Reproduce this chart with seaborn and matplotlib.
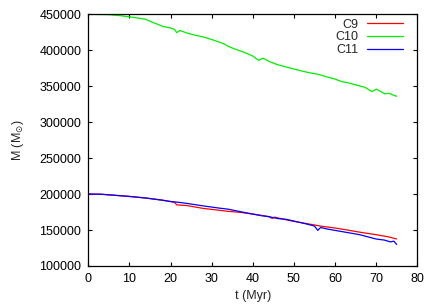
import pandas as pd
import matplotlib
matplotlib.use("Agg")
import matplotlib.pyplot as plt
import seaborn as sns

# C9 (red)
t_c9 = [0, 3, 6, 10, 14, 18, 20, 21, 21.5, 24, 28, 31.8, 34, 37, 40, 42, 44, 44.7, 45.3,
        47, 50, 53, 55, 57, 60, 63, 66, 70, 73, 75]
m_c9 = [200000, 199800, 198500, 196700, 194500, 191500, 189500, 188500, 185000, 184000,
        180000, 177500, 176000, 174500, 172200, 170500, 168500, 166000, 168000, 165500,
        162000, 159000, 157000, 155000, 152800, 150000, 147000, 143500, 140500, 137500]

# C10 (green)
t_c10 = [0, 5, 8, 10, 12, 14, 16, 17, 18, 20, 21, 21.5, 22.3, 24, 26, 28, 30, 31.8, 33, 34,
         36, 38, 40, 41.4, 42.5, 44, 46, 48, 50, 52, 54, 56, 58, 60, 61.6, 63, 65, 67.3,
         69, 70.1, 71, 72.1, 73.3, 74, 75]
m_c10 = [450000, 449500, 448000, 446500, 445000, 443000, 438000, 436000, 433500, 431000,
         429000, 424500, 427500, 424000, 421000, 418500, 415000, 411500, 409000, 405500,
         401000, 397000, 392000, 386000, 389000, 384500, 380000, 377000, 374000, 371000,
         368500, 366500, 363000, 360000, 356500, 355000, 352000, 348500, 342500, 346000,
         343000, 339500, 340000, 338000, 336000]

# C11 (blue)
t_c11 = [0, 3, 6, 10, 14, 18, 20, 22, 24, 28, 31.8, 34, 37, 40, 42, 44, 46, 48, 50, 53, 55,
         55.8, 56.5, 58, 60, 63, 66, 70, 72, 73.5, 74.3, 75]
m_c11 = [200000, 199800, 198500, 196700, 194500, 191500, 189700, 188500, 187000, 183500,
         180500, 179000, 175500, 172200, 170000, 168500, 166000, 165000, 162500, 158500,
         155500, 149500, 153500, 151500, 149500, 146500, 143500, 137500, 136000, 133500,
         134500, 130000]

df = pd.concat([
    pd.DataFrame({"t": t_c9, "M": m_c9, "cluster": "C9"}),
    pd.DataFrame({"t": t_c10, "M": m_c10, "cluster": "C10"}),
    pd.DataFrame({"t": t_c11, "M": m_c11, "cluster": "C11"}),
])

sns.set_style("ticks")
plt.rcParams["font.family"] = ["Liberation Sans", "DejaVu Sans"]
plt.rcParams["mathtext.fontset"] = "dejavusans"

fig = plt.figure(figsize=(4.36, 3.05), dpi=100)
ax = fig.add_axes([0.2025, 0.128, 0.7545, 0.825])

sns.lineplot(data=df, x="t", y="M", hue="cluster", palette=["#ff0000", "#00ee00", "#0000ff"],
             linewidth=0.9, sort=False, estimator=None, ax=ax)

ax.set_xlim(0, 80)
ax.set_ylim(100000, 450000)
ax.set_xticks(range(0, 81, 10))
ax.set_yticks(range(100000, 450001, 50000))
ax.tick_params(direction="in", length=3, width=0.8, top=True, right=True,
               labelsize=9, colors="black", pad=5)
for s in ax.spines.values():
    s.set_linewidth(0.9)
    s.set_color("black")

ax.set_xlabel("t (Myr)", fontsize=9)
ax.set_ylabel(r"M (M$_{\odot}$)", fontsize=9)
ax.yaxis.set_label_coords(-0.19, 0.5)
ax.xaxis.set_label_coords(0.5, -0.095)

ax.legend(loc="upper right", frameon=False, markerfirst=False, fontsize=9,
          handlelength=2.9, handletextpad=0.7, labelspacing=0.05,
          borderaxespad=0.2, bbox_to_anchor=(0.98, 1.012))

plt.savefig("out.png", dpi=100)
